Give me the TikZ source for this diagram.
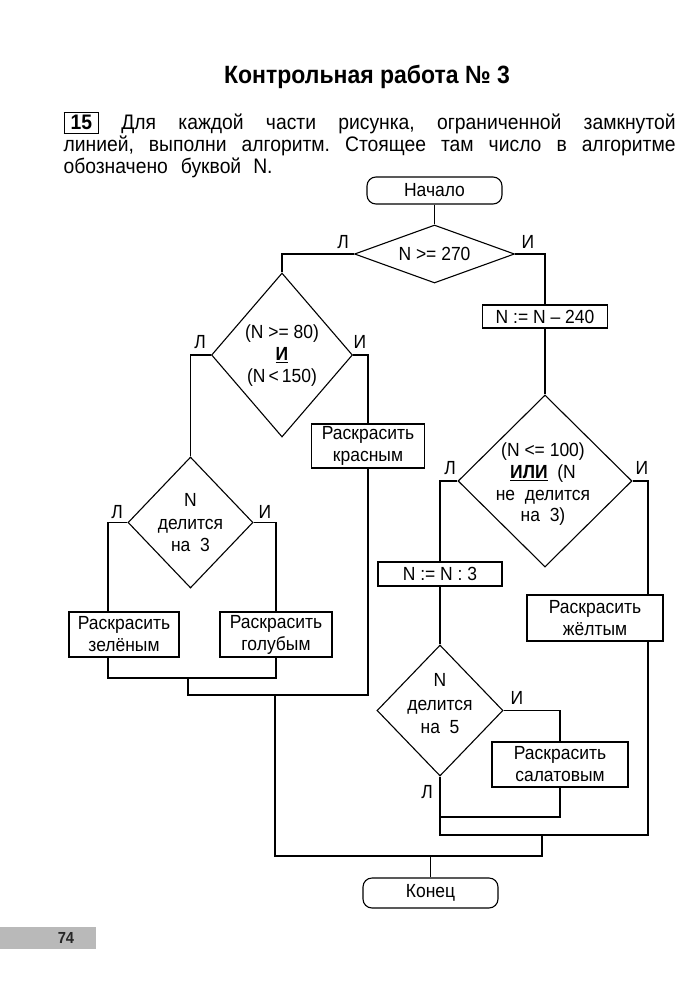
\documentclass[tikz,border=0pt]{standalone}
\usepackage{fontspec}
\setmainfont{Liberation Sans}[FakeStretch=0.92]
\usetikzlibrary{shapes.geometric,calc}
\newcommand{\fsz}{\fontsize{19}{22}\selectfont}
\frenchspacing
\begin{document}
\begin{tikzpicture}[x=1pt,y=-1pt,line width=1.1pt,
  pbox/.style={draw,rectangle,inner sep=0pt,align=center,font=\fsz},
  term/.style={draw,rectangle,rounded corners=9pt,inner sep=0pt,align=center,font=\fsz},
  dia/.style={draw,diamond,inner sep=0pt},
  txt/.style={inner sep=0pt,align=center,font=\fsz},
  lbl/.style={inner sep=0pt,font=\fsz},
  para/.style={inner sep=0pt,anchor=base west,font=\fontsize{21}{24}\selectfont}]
\useasboundingbox (0,0) rectangle (700,995);
% title and task text
\node[inner sep=0pt,font=\bfseries\fontsize{25}{28}\selectfont] (title) at (367,77) {Контрольная работа № 3};
\node[para] (p1) at (63,130) {\setlength\fboxsep{1.5pt}\setlength\fboxrule{1.3pt}\makebox[612pt][s]{\fbox{\rule[-1.2pt]{0pt}{16.4pt}\makebox[30pt]{\bfseries 15}} Для каждой части рисунка, ограниченной замкнутой}};
\node[para] (p2) at (63,152) {\makebox[612pt][s]{линией, выполни алгоритм. Стоящее там число в алгоритме}};
\node[para] (p3) at (63,174) {обозначено\hspace{13pt}буквой\hspace{12pt}N.};
% terminals
\node[term,minimum width=135,minimum height=27] (start) at (434.5,190.5) {Начало};
\node[term,minimum width=135,minimum height=30] (end) at (430.5,893) {Конец};
% decisions
\node[dia,minimum width=160,minimum height=58] (d1) at (434.5,254) {};
\node[txt] (d1t) at (434.5,254) {N >= 270};
\node[dia,minimum width=141,minimum height=164] (d2) at (282,355) {};
\node[txt] (d2t) at (282,356) {(N >= 80)\\\underline{\textbf{И}}\\(N{\,}<{\,}150)};
\node[dia,minimum width=125,minimum height=131] (d3) at (190.5,522.5) {};
\node[txt,font=\fontsize{19}{22.5}\selectfont] (d3t) at (190.5,523) {N\\делится\\на\ \ 3};
\node[dia,minimum width=174,minimum height=172] (d4) at (545,481) {};
\node[txt,font=\fontsize{19}{21.7}\selectfont] (d4t) at (543,484.5) {(N <= 100)\\\underline{\textbf{ИЛИ}}\ \ (N\\не\ \ делится\\на\ \ 3)};
\node[dia,minimum width=126,minimum height=131] (d5) at (440,710.5) {};
\node[txt,font=\fontsize{19}{23.5}\selectfont] (d5t) at (440,704) {N\\делится\\на\ \ 5};
% processes
\node[pbox,minimum width=125,minimum height=23] (b240) at (545,316.5) {N := N – 240};
\node[pbox,minimum width=113,minimum height=44] (red) at (368,446) {Раскрасить\\красным};
\node[pbox,minimum width=110,minimum height=45] (green) at (124,634.5) {Раскрасить\\зелёным};
\node[pbox,minimum width=112,minimum height=45] (blue) at (276,634.5) {Раскрасить\\голубым};
\node[pbox,minimum width=124,minimum height=24] (nn3) at (440,574) {N := N : 3};
\node[pbox,minimum width=136,minimum height=46] (yellow) at (595,618) {Раскрасить\\жёлтым};
\node[pbox,minimum width=136,minimum height=45] (salad) at (560,764.5) {Раскрасить\\салатовым};
% branch labels
\node[lbl] (l1) at (343,242) {Л};
\node[lbl] (i1) at (528,242) {И};
\node[lbl] (l2) at (200,342) {Л};
\node[lbl] (i2) at (360,342) {И};
\node[lbl] (l3) at (117,512) {Л};
\node[lbl] (i3) at (265,512) {И};
\node[lbl] (l4) at (450,468) {Л};
\node[lbl] (i4) at (642,468) {И};
\node[lbl] (i5) at (517,698) {И};
\node[lbl] (l5) at (427,792) {Л};
% junction points
\coordinate (j1) at (188,678);
\coordinate (j2) at (188,695);
\coordinate (j3) at (275,695);
\coordinate (j4) at (275,856);
\coordinate (j5) at (542,856);
\coordinate (j6) at (542,835);
\coordinate (j7) at (648,835);
\coordinate (j8) at (560,817);
% connectors
\draw (start.south) -- (d1.north);
\draw (d1.west) -| (d2.north);
\draw (d1.east) -| (b240.north);
\draw (b240.south) -- (d4.north);
\draw (d2.west) -| (d3.north);
\draw (d2.east) -| (red.north);
\draw (d3.west) -| ([xshift=-16pt]green.north);
\draw (d3.east) -| (blue.north);
\draw ([xshift=-16pt]green.south) -- ([xshift=-16pt]green.south |- j1) -| (blue.south);
\draw (j1) -- (j2) -| (red.south);
\draw (j3) -- (j4) -- (j5) -- (j6);
\draw (d4.west) -| (nn3.north);
\draw (d4.east) -| ([xshift=53pt]yellow.north);
\draw (nn3.south) -- (d5.north);
\draw (d5.east) -| (salad.north);
\draw (salad.south) -- (j8) -- (d5.south |- j8);
\draw ([xshift=53pt]yellow.south) -- (j7) -- (d5.south |- j7) -- (d5.south);
\draw (end.north) -- (end.north |- j4);
% page number
\fill[gray!55] (0,927) rectangle (96,949);
\node[inner sep=0pt,font=\bfseries\fontsize{16}{18}\selectfont,text=black!85] (pn) at (66,938) {74};
\end{tikzpicture}
\end{document}
